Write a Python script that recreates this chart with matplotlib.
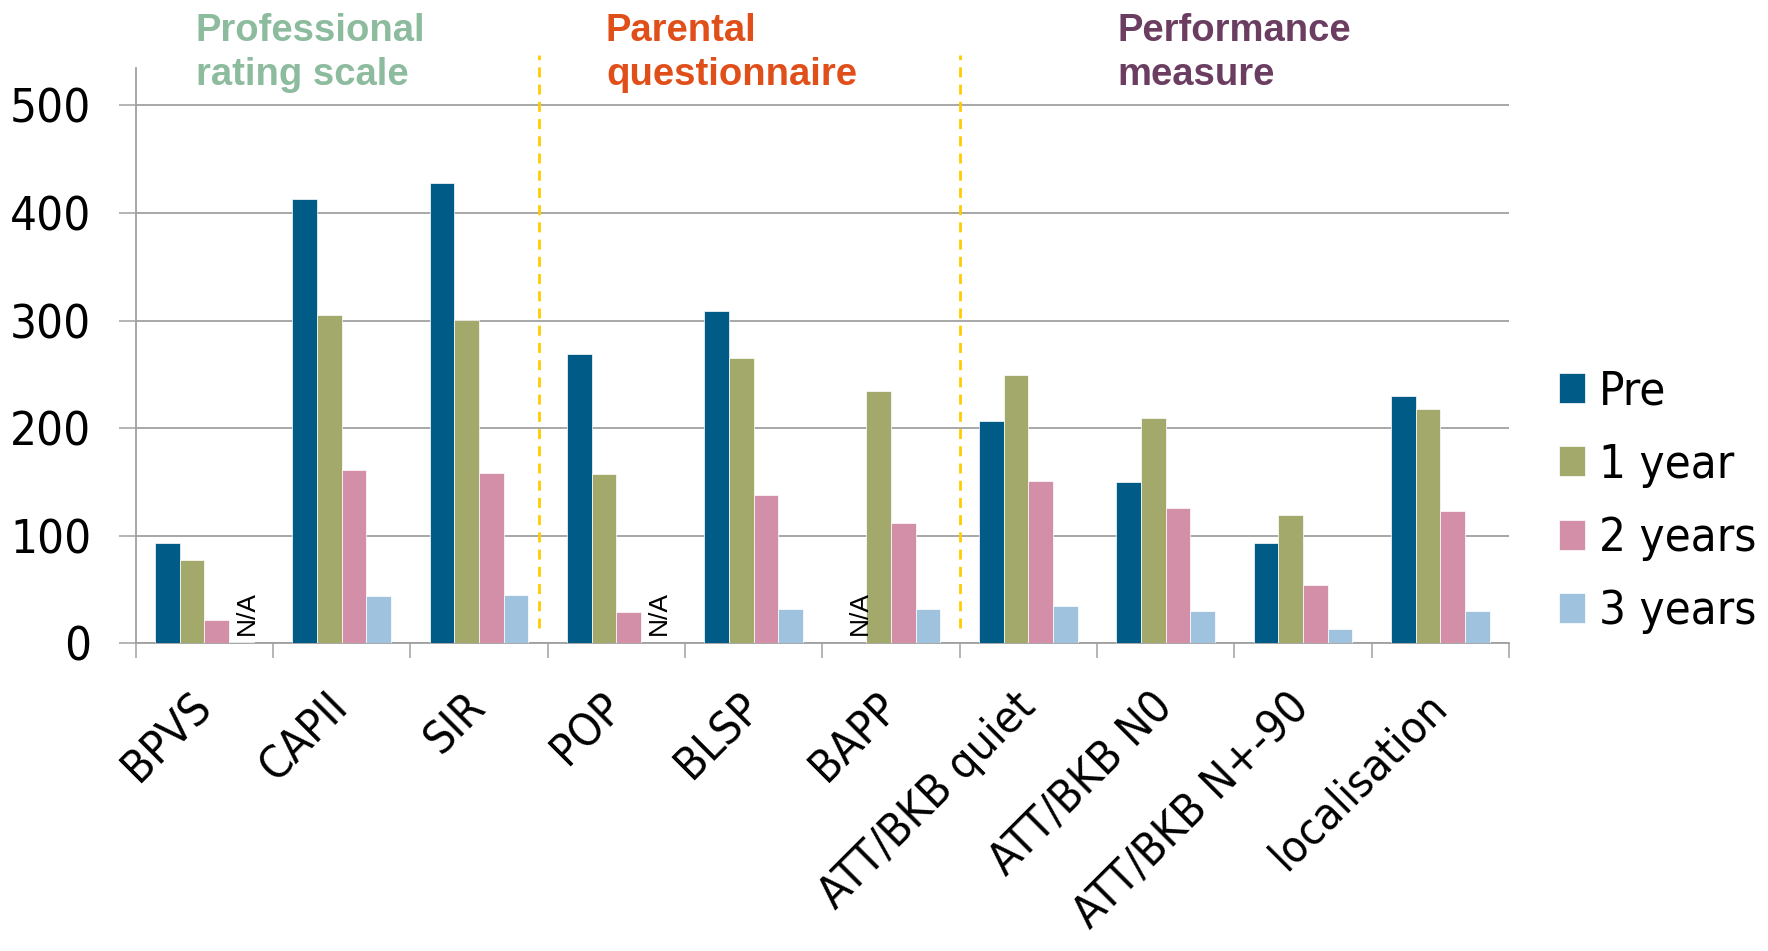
import numpy as np
import matplotlib
matplotlib.use("Agg")
import matplotlib.pyplot as plt

# ---- data -------------------------------------------------------------
categories = ["BPVS", "CAPII", "SIR", "POP", "BLSP", "BAPP",
              "ATT/BKB quiet", "ATT/BKB N0", "ATT/BKB N+-90", "localisation"]
series_names = ["Pre", "1 year", "2 years", "3 years"]
pre = [93, 413, 428, 269, 309, np.nan, 207, 150, 93, 230]
one_year = [77, 305, 301, 157, 265, 235, 249, 209, 119, 218]
two_years = [22, 161, 158, 29, 138, 112, 151, 126, 54, 123]
three_years = [1, 44, 45, np.nan, 32, 32, 35, 30, 13, 30]
# measures with no data for a given time point: (category index, series index)
not_available = [(0, 3), (3, 3), (5, 0)]

group_titles = ["Professional\nrating scale", "Parental\nquestionnaire",
                "Performance\nmeasure"]
y_ticks = [0, 100, 200, 300, 400, 500]

# ---- style ------------------------------------------------------------
colors = ["#005C87", "#A3A86B", "#D48FA8", "#9FC3DF"]
title_colors = ["#8DBB9E", "#E04F1A", "#6B3D61"]
grid_color = "#A0A0A0"
W, H = 1768, 951
DPI = 100

plt.rcParams["font.family"] = ["DejaVu Sans"]

fig = plt.figure(figsize=(W / DPI, H / DPI), dpi=DPI)
ax = fig.add_axes([135.6 / W, 1 - 643.3 / H, (1509 - 135.6) / W, 575.5 / H])

values = [pre, one_year, two_years, three_years]
n_cat = len(categories)
x = np.arange(n_cat)
bw = 0.18
for j, (name, vals) in enumerate(zip(series_names, values)):
    ax.bar(x + (j - 1.5) * bw, vals, width=bw, color=colors[j],
           edgecolor="#FFFFFF", linewidth=0.5, label=name, zorder=3)

for ci, sj in not_available:
    ax.text(ci + (sj - 1.5) * bw + 0.04, 8, "N/A", rotation=90,
            ha="center", va="bottom", fontsize=19,
            family=["Liberation Sans"], zorder=4)

ax.set_xlim(-0.5, n_cat - 0.5)
ax.set_ylim(0, 535)

# y axis
ax.set_yticks(y_ticks)
ax.set_yticklabels([str(v) for v in y_ticks])
ax.yaxis.grid(True, color=grid_color, linewidth=1.3, zorder=0)
ax.tick_params(axis="y", length=12, width=1.1, color=grid_color, pad=20,
               labelsize=34)
for lab in ax.get_yticklabels():
    lab.set_fontstretch("condensed")

# x axis: tick marks between categories, labels at category centres
ax.set_xticks(np.arange(n_cat + 1) - 0.5)
ax.set_xticklabels([])
ax.set_xticks(x, minor=True)
ax.set_xticklabels(categories, minor=True, rotation=45, ha="right",
                   va="center", rotation_mode="anchor", fontsize=32.5)
ax.tick_params(axis="x", which="major", length=11, width=1.1,
               color=grid_color)
ax.tick_params(axis="x", which="minor", length=0, pad=41)
for lab in ax.get_xticklabels(minor=True):
    lab.set_fontstretch("condensed")

for side in ("top", "right"):
    ax.spines[side].set_visible(False)
for side in ("left", "bottom"):
    ax.spines[side].set_color(grid_color)
    ax.spines[side].set_linewidth(1.3)
ax.set_axisbelow(True)

# dashed separators between measure groups
for xs in (2.44, 5.5):
    ax.plot([xs, xs], [14, 547], linestyle=(0, (3.6, 2.6)), color="#FFCC00",
            linewidth=2.0, clip_on=False, zorder=5)

# group headings
title_x = [196, 606, 1117]
for tx, txt, col in zip(title_x, group_titles, title_colors):
    for k, line in enumerate(txt.split("\n")):
        fig.text(tx / W, 1 - (40.7 + 44.3 * k) / H, line, ha="left",
                 va="baseline", fontsize=27.5, fontweight="bold", color=col,
                 family=["Liberation Sans"])

leg = ax.legend(loc="center left", bbox_to_anchor=(1559 / W, 1 - 502 / H),
                bbox_transform=fig.transFigure, frameon=False, fontsize=34,
                handlelength=0.55, handleheight=0.6, handletextpad=0.3,
                labelspacing=0.6, borderpad=0, borderaxespad=0)
for t in leg.get_texts():
    t.set_fontstretch("condensed")

fig.savefig("out.png", dpi=DPI)
